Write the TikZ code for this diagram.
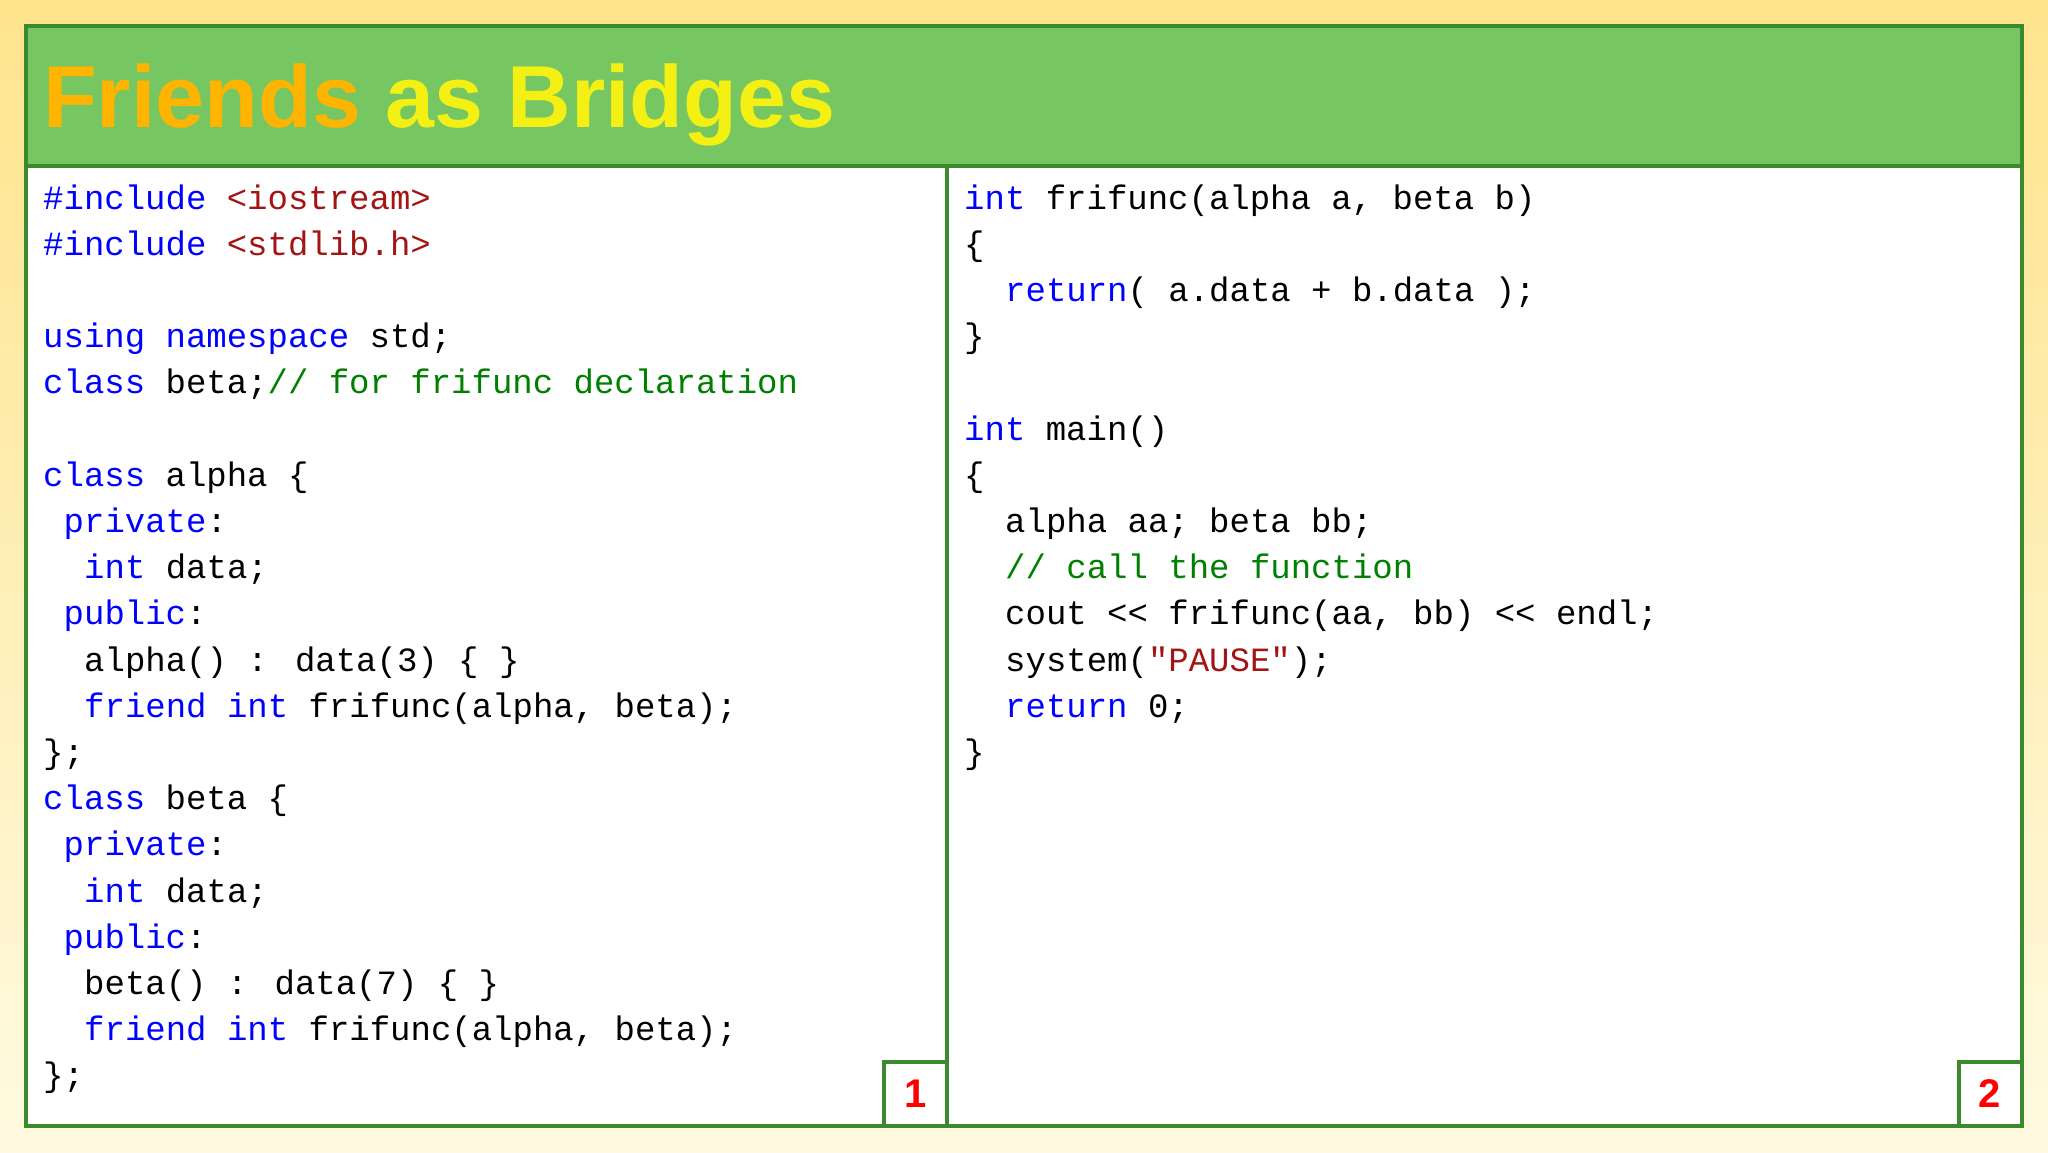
\documentclass[tikz,border=0pt]{standalone}
\usepackage{fontspec}
\newfontfamily\code{Liberation Mono}
\newfontfamily\titlef{Liberation Sans}
\definecolor{kw}{RGB}{0,0,255}
\definecolor{str}{RGB}{163,21,21}
\definecolor{cmt}{RGB}{0,128,0}
\definecolor{frame}{RGB}{60,138,46}
\definecolor{hdr}{RGB}{118,198,98}
\newcommand{\K}[1]{\textcolor{kw}{#1}}
\newcommand{\St}[1]{\textcolor{str}{#1}}
\newcommand{\Cm}[1]{\textcolor{cmt}{#1}}
\begin{document}
\begin{tikzpicture}[x=1pt,y=-1pt,
  cl/.style={anchor=base west,inner sep=0,font=\code\fontsize{34}{40}\selectfont},
  num/.style={draw=frame,line width=4,minimum width=63,minimum height=64,inner sep=0,text=red,font=\titlef\bfseries\fontsize{40}{40}\selectfont}]
\useasboundingbox (0,0) rectangle (2048,1152);
\shade[top color={rgb,255:red,255;green,228;blue,140},bottom color={rgb,255:red,255;green,250;blue,225}] (0,0) rectangle (2048,1152);
\fill[white] (26,166) rectangle (2022,1126);
\fill[hdr] (26,26) rectangle (2022,166);
\draw[frame,line width=4] (26,26) rectangle (2022,1126);
\draw[frame,line width=4] (26,166) -- (2022,166);
\draw[frame,line width=4] (947,166) -- (947,1126);
\node[anchor=base west,inner sep=0,font=\titlef\bfseries\fontsize{88}{90}\selectfont] (title) at (43,127) {\textcolor[RGB]{255,180,0}{Friends} \textcolor[RGB]{245,240,20}{as Bridges}};
\def\ch{20.5}
\foreach \i/\ind/\t in {
0/0/{\K{\#include} \St{<iostream>}},
1/0/{\K{\#include} \St{<stdlib.h>}},
3/0/{\K{using} \K{namespace} std;},
4/0/{\K{class} beta;\Cm{// for frifunc declaration}},
6/0/{\K{class} alpha \{},
7/1/{\K{private}:},
8/2/{\K{int} data;},
9/1/{\K{public}:},
10/2/{alpha() : data(3) \{ \}},
11/2/{\K{friend} \K{int} frifunc(alpha, beta);},
12/0/{\};},
13/0/{\K{class} beta \{},
14/1/{\K{private}:},
15/2/{\K{int} data;},
16/1/{\K{public}:},
17/2/{beta() : data(7) \{ \}},
18/2/{\K{friend} \K{int} frifunc(alpha, beta);},
19/0/{\};}}
  \node[cl] (l\i) at (43+\ind*\ch, 209+\i*46.2) {\t};
\foreach \i/\ind/\t in {
0/0/{\K{int} frifunc(alpha a, beta b)},
1/0/{\{},
2/2/{\K{return}( a.data + b.data );},
3/0/{\}},
5/0/{\K{int} main()},
6/0/{\{},
7/2/{alpha aa; beta bb;},
8/2/{\Cm{// call the function}},
9/2/{cout << frifunc(aa, bb) << endl;},
10/2/{system(\St{"PAUSE"});},
11/2/{\K{return} 0;},
12/0/{\}}}
  \node[cl] (r\i) at (964+\ind*\ch, 209+\i*46.2) {\t};
\node[num] (n1) at (915.5,1094) {1};
\node[num] (n2) at (1990,1094) {2};
\end{tikzpicture}
\end{document}
